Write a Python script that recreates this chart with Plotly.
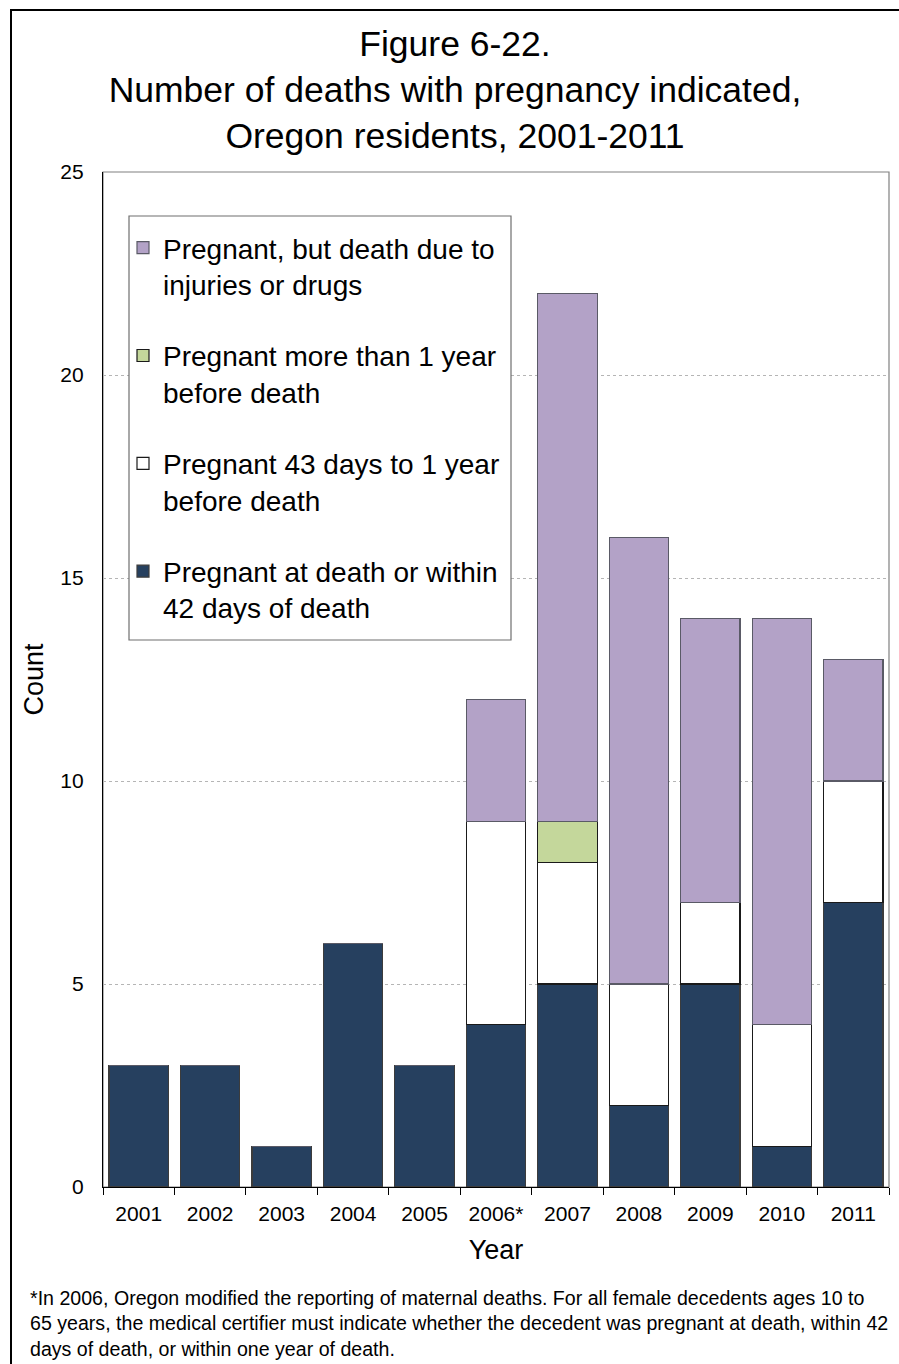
import plotly.graph_objects as go

# Data: deaths with pregnancy indicated, Oregon residents
years = ["2001", "2002", "2003", "2004", "2005", "2006*", "2007", "2008", "2009", "2010", "2011"]
at_death_42d = [3, 3, 1, 6, 3, 4, 5, 2, 5, 1, 7]
days43_to_1yr = [0, 0, 0, 0, 0, 5, 3, 3, 2, 3, 3]
more_than_1yr = [0, 0, 0, 0, 0, 0, 1, 0, 0, 0, 0]
injuries_drugs = [0, 0, 0, 0, 0, 3, 13, 11, 7, 10, 3]

series_names = [
    "Pregnant at death or within<br>42 days of death",
    "Pregnant 43 days to 1 year<br>before death",
    "Pregnant more than 1 year<br>before death",
    "Pregnant, but death due to<br>injuries or drugs",
]
series_values = [at_death_42d, days43_to_1yr, more_than_1yr, injuries_drugs]
series_colors = ["#26405F", "#FFFFFF", "#C4D79B", "#B3A2C7"]
edge_colors = ["#3c3c3c", "#1a1a1a", "#1a1a1a", "#5a5a66"]

W, H = 899, 1364
L, R, T, B = 103, 889, 172, 1187  # plot area in pixels

NARROW = "Liberation Sans Narrow, Arial Narrow, Liberation Sans, Arial, sans-serif"
SANS = "Liberation Sans, Arial, sans-serif"


def px_x(x):
    return (x - L) / (R - L)


def px_y(y):
    return (B - y) / (B - T)


fig = go.Figure()
n = len(series_names)
for i, (name, vals, col, edge) in enumerate(zip(series_names, series_values, series_colors, edge_colors)):
    fig.add_trace(go.Bar(
        x=years, y=vals, name=name, legendgroup=f"g{i}", legendrank=n - i,
        marker=dict(color=col, line=dict(color=edge, width=1.2)),
    ))

fig.update_layout(
    width=W, height=H,
    margin=dict(l=L, r=W - R, t=T, b=H - B, pad=0),
    paper_bgcolor="white", plot_bgcolor="white",
    barmode="stack", bargap=0.17,
    font=dict(family=SANS, color="black"),
    title=dict(
        text="Figure 6-22.<br>Number of deaths with pregnancy indicated,<br>Oregon residents, 2001-2011",
        font=dict(family=NARROW, size=35.5, color="black"),
        x=455 / W, xanchor="center", y=1 - 56 / H, yanchor="top",
    ),
    legend=dict(
        x=px_x(123), y=px_y(223), xanchor="left", yanchor="top",
        traceorder="grouped", tracegroupgap=32,
        bgcolor="rgba(0,0,0,0)", borderwidth=0,
        font=dict(family=SANS, size=28, color="black"),
        valign="top", itemclick=False,
    ),
    showlegend=True,
)

fig.update_xaxes(
    type="category", showline=True, linecolor="black", linewidth=1.3,
    ticks="outside", tickson="boundaries", ticklen=7, tickcolor="black", tickwidth=1,
    ticklabelstandoff=8,
    tickfont=dict(family=NARROW, size=21, color="black"),
    title=dict(text="Year", font=dict(family=NARROW, size=27, color="black"), standoff=15),
    showgrid=False,
)
fig.update_yaxes(
    range=[0, 25], dtick=5, showline=True, linecolor="black", linewidth=1.3,
    ticks="", ticklabelstandoff=14,
    tickfont=dict(family=NARROW, size=21, color="black"),
    title=dict(text="Count", font=dict(family=SANS, size=27, color="black"), standoff=8),
    showgrid=True, gridcolor="#b5b5b5", griddash="dot", gridwidth=1,
    zeroline=False,
)

# gray frame on top/right of the plot area
fig.add_shape(type="rect", xref="paper", yref="paper", x0=0, x1=1, y0=0, y1=1,
              line=dict(color="#808080", width=1.2), layer="below")
# legend box (white panel with gray border behind the legend entries)
fig.add_shape(type="rect", xref="paper", yref="paper",
              x0=px_x(129), x1=px_x(511), y0=px_y(640), y1=px_y(216),
              fillcolor="white", line=dict(color="#6f6f6f", width=1.2), layer="above")
# outer black frame
fig.add_shape(type="rect", xref="paper", yref="paper",
              x0=px_x(11), x1=px_x(906), y0=px_y(1372), y1=px_y(10),
              line=dict(color="black", width=2))

fig.add_annotation(
    xref="paper", yref="paper", x=px_x(28), y=px_y(1285), xanchor="left", yanchor="top",
    align="left", showarrow=False,
    text=("*In 2006, Oregon modified the reporting of maternal deaths. For all female decedents ages 10 to<br>"
          "65 years, the medical certifier must indicate whether the decedent was pregnant at death, within 42<br>"
          "days of death, or within one year of death."),
    font=dict(family=NARROW, size=19.6, color="black"),
)

fig.write_html("out.html")
